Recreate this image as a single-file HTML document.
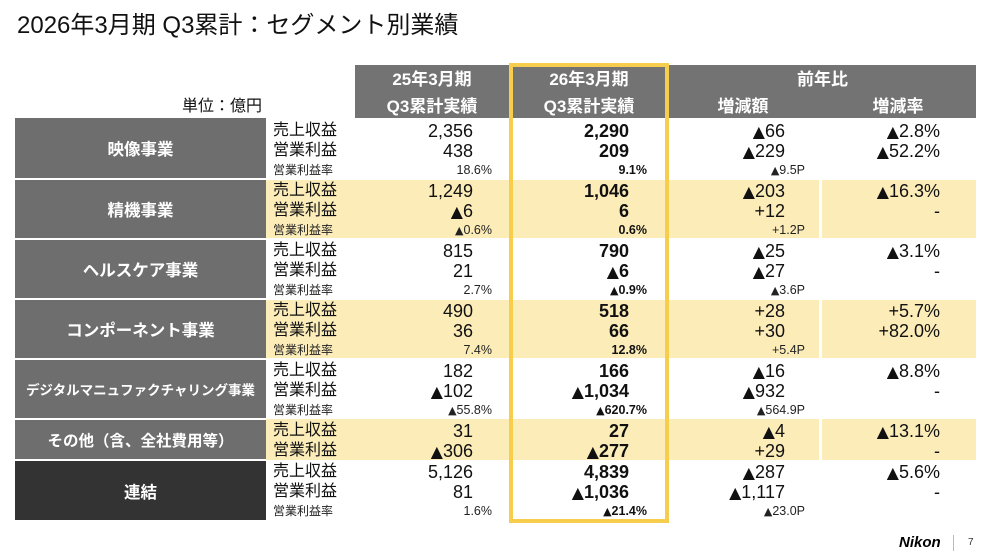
<!DOCTYPE html>
<html><head><meta charset="utf-8">
<style>
html,body{margin:0;padding:0;background:#fff;}
body{width:1000px;height:560px;position:relative;overflow:hidden;font-family:"Liberation Sans","Noto Sans CJK JP",sans-serif;color:#111;}
.a{position:absolute;white-space:nowrap;}
.r{position:absolute;background:#707070;}
.y{position:absolute;background:#fcecb8;}
.h{position:absolute;color:#fff;font-weight:bold;font-size:17px;line-height:22px;text-align:center;}
.seg{position:absolute;left:15px;width:251px;background:#6e6e6e;color:#fff;font-weight:bold;font-size:16.5px;display:flex;align-items:center;justify-content:center;white-space:nowrap;}
.lb{position:absolute;left:273px;font-size:16px;line-height:20px;color:#111;white-space:nowrap;}
.ls{position:absolute;left:273px;font-size:12px;line-height:16px;color:#222;white-space:nowrap;}
.n{position:absolute;font-size:18px;line-height:20px;text-align:right;white-space:nowrap;}
.s{position:absolute;font-size:12.5px;line-height:16px;text-align:right;white-space:nowrap;color:#222;}
.b{font-weight:bold;color:#111;}
.c1{right:527px;}
.c1s{right:508px;}
.c2{right:371px;}
.c2s{right:353px;}
.c3{right:215px;}
.c3s{right:195px;}
.c4{right:60px;}
.t{font-family:"DejaVu Sans",sans-serif;font-size:0.88em;font-weight:normal;}
</style></head><body>

<div class="a" style="left:17px;top:11px;font-size:24px;line-height:30px;color:#111;">2026年3月期 Q3累計：セグメント別業績</div>

<div class="a" style="left:182px;top:97px;font-size:16px;line-height:20px;">単位：億円</div>

<!-- header -->
<div class="r" style="left:355px;top:65px;width:621px;height:53px;background:#737373;"></div>
<div class="h" style="left:355px;width:154px;top:69px;">25年3月期</div>
<div class="h" style="left:355px;width:154px;top:96px;">Q3累計実績</div>
<div class="h" style="left:509px;width:160px;top:69px;">26年3月期</div>
<div class="h" style="left:509px;width:160px;top:96px;">Q3累計実績</div>
<div class="h" style="left:669px;width:307px;top:69px;">前年比</div>
<div class="h" style="left:693px;width:100px;top:96px;">増減額</div>
<div class="h" style="left:848px;width:100px;top:96px;">増減率</div>

<!-- yellow bands -->
<div class="y" style="left:266px;top:180px;width:553px;height:58px;"></div>
<div class="y" style="left:822px;top:180px;width:154px;height:58px;"></div>
<div class="y" style="left:266px;top:300px;width:553px;height:58px;"></div>
<div class="y" style="left:822px;top:300px;width:154px;height:58px;"></div>
<div class="y" style="left:266px;top:419px;width:553px;height:41px;"></div>
<div class="y" style="left:822px;top:419px;width:154px;height:41px;"></div>

<!-- segment cells -->
<div class="seg" style="top:118px;height:60px;">映像事業</div>
<div class="seg" style="top:180px;height:58px;">精機事業</div>
<div class="seg" style="top:240px;height:58px;">ヘルスケア事業</div>
<div class="seg" style="top:300px;height:58px;">コンポーネント事業</div>
<div class="seg" style="top:360px;height:58px;font-size:13.5px;">デジタルマニュファクチャリング事業</div>
<div class="seg" style="top:420px;height:39px;font-size:15.5px;">その他（含、全社費用等）</div>
<div class="seg" style="top:461px;height:59px;background:#333;">連結</div>

<!-- Section 1 -->
<div class="lb" style="top:121px;">売上収益</div>
<div class="lb" style="top:141px;">営業利益</div>
<div class="ls" style="top:162px;">営業利益率</div>
<div class="n c1" style="top:121px;">2,356</div>
<div class="n c1" style="top:141px;">438</div>
<div class="s c1s" style="top:162px;">18.6%</div>
<div class="n c2 b" style="top:121px;">2,290</div>
<div class="n c2 b" style="top:141px;">209</div>
<div class="s c2s b" style="top:162px;">9.1%</div>
<div class="n c3" style="top:121px;"><span class="t">▲</span>66</div>
<div class="n c3" style="top:141px;"><span class="t">▲</span>229</div>
<div class="s c3s" style="top:162px;"><span class="t">▲</span>9.5P</div>
<div class="n c4" style="top:121px;"><span class="t">▲</span>2.8%</div>
<div class="n c4" style="top:141px;"><span class="t">▲</span>52.2%</div>

<!-- Section 2 -->
<div class="lb" style="top:181px;">売上収益</div>
<div class="lb" style="top:201px;">営業利益</div>
<div class="ls" style="top:222px;">営業利益率</div>
<div class="n c1" style="top:181px;">1,249</div>
<div class="n c1" style="top:201px;"><span class="t">▲</span>6</div>
<div class="s c1s" style="top:222px;"><span class="t">▲</span>0.6%</div>
<div class="n c2 b" style="top:181px;">1,046</div>
<div class="n c2 b" style="top:201px;">6</div>
<div class="s c2s b" style="top:222px;">0.6%</div>
<div class="n c3" style="top:181px;"><span class="t">▲</span>203</div>
<div class="n c3" style="top:201px;">+12</div>
<div class="s c3s" style="top:222px;">+1.2P</div>
<div class="n c4" style="top:181px;"><span class="t">▲</span>16.3%</div>
<div class="n c4" style="top:201px;">-</div>

<!-- Section 3 -->
<div class="lb" style="top:241px;">売上収益</div>
<div class="lb" style="top:261px;">営業利益</div>
<div class="ls" style="top:282px;">営業利益率</div>
<div class="n c1" style="top:241px;">815</div>
<div class="n c1" style="top:261px;">21</div>
<div class="s c1s" style="top:282px;">2.7%</div>
<div class="n c2 b" style="top:241px;">790</div>
<div class="n c2 b" style="top:261px;"><span class="t">▲</span>6</div>
<div class="s c2s b" style="top:282px;"><span class="t">▲</span>0.9%</div>
<div class="n c3" style="top:241px;"><span class="t">▲</span>25</div>
<div class="n c3" style="top:261px;"><span class="t">▲</span>27</div>
<div class="s c3s" style="top:282px;"><span class="t">▲</span>3.6P</div>
<div class="n c4" style="top:241px;"><span class="t">▲</span>3.1%</div>
<div class="n c4" style="top:261px;">-</div>

<!-- Section 4 -->
<div class="lb" style="top:301px;">売上収益</div>
<div class="lb" style="top:321px;">営業利益</div>
<div class="ls" style="top:342px;">営業利益率</div>
<div class="n c1" style="top:301px;">490</div>
<div class="n c1" style="top:321px;">36</div>
<div class="s c1s" style="top:342px;">7.4%</div>
<div class="n c2 b" style="top:301px;">518</div>
<div class="n c2 b" style="top:321px;">66</div>
<div class="s c2s b" style="top:342px;">12.8%</div>
<div class="n c3" style="top:301px;">+28</div>
<div class="n c3" style="top:321px;">+30</div>
<div class="s c3s" style="top:342px;">+5.4P</div>
<div class="n c4" style="top:301px;">+5.7%</div>
<div class="n c4" style="top:321px;">+82.0%</div>

<!-- Section 5 -->
<div class="lb" style="top:361px;">売上収益</div>
<div class="lb" style="top:381px;">営業利益</div>
<div class="ls" style="top:402px;">営業利益率</div>
<div class="n c1" style="top:361px;">182</div>
<div class="n c1" style="top:381px;"><span class="t">▲</span>102</div>
<div class="s c1s" style="top:402px;"><span class="t">▲</span>55.8%</div>
<div class="n c2 b" style="top:361px;">166</div>
<div class="n c2 b" style="top:381px;"><span class="t">▲</span>1,034</div>
<div class="s c2s b" style="top:402px;"><span class="t">▲</span>620.7%</div>
<div class="n c3" style="top:361px;"><span class="t">▲</span>16</div>
<div class="n c3" style="top:381px;"><span class="t">▲</span>932</div>
<div class="s c3s" style="top:402px;"><span class="t">▲</span>564.9P</div>
<div class="n c4" style="top:361px;"><span class="t">▲</span>8.8%</div>
<div class="n c4" style="top:381px;">-</div>

<!-- Section 6 -->
<div class="lb" style="top:421px;">売上収益</div>
<div class="lb" style="top:441px;">営業利益</div>
<div class="n c1" style="top:421px;">31</div>
<div class="n c1" style="top:441px;"><span class="t">▲</span>306</div>
<div class="n c2 b" style="top:421px;">27</div>
<div class="n c2 b" style="top:441px;"><span class="t">▲</span>277</div>
<div class="n c3" style="top:421px;"><span class="t">▲</span>4</div>
<div class="n c3" style="top:441px;">+29</div>
<div class="n c4" style="top:421px;"><span class="t">▲</span>13.1%</div>
<div class="n c4" style="top:441px;">-</div>

<!-- Section 7 -->
<div class="lb" style="top:462px;">売上収益</div>
<div class="lb" style="top:482px;">営業利益</div>
<div class="ls" style="top:503px;">営業利益率</div>
<div class="n c1" style="top:462px;">5,126</div>
<div class="n c1" style="top:482px;">81</div>
<div class="s c1s" style="top:503px;">1.6%</div>
<div class="n c2 b" style="top:462px;">4,839</div>
<div class="n c2 b" style="top:482px;"><span class="t">▲</span>1,036</div>
<div class="s c2s b" style="top:503px;"><span class="t">▲</span>21.4%</div>
<div class="n c3" style="top:462px;"><span class="t">▲</span>287</div>
<div class="n c3" style="top:482px;"><span class="t">▲</span>1,117</div>
<div class="s c3s" style="top:503px;"><span class="t">▲</span>23.0P</div>
<div class="n c4" style="top:462px;"><span class="t">▲</span>5.6%</div>
<div class="n c4" style="top:482px;">-</div>

<!-- yellow frame -->
<div class="a" style="left:509px;top:63px;width:160px;height:460px;border:4px solid #f6cd4c;box-sizing:border-box;"></div>

<!-- footer -->
<div class="a" style="left:899px;top:534px;font-size:15px;line-height:18px;font-weight:bold;font-style:italic;color:#000;">Nikon</div>
<div class="a" style="left:953px;top:535px;width:1px;height:16px;background:#bbb;"></div>
<div class="a" style="left:968px;top:537px;font-size:10px;line-height:12px;color:#333;">7</div>

</body></html>
